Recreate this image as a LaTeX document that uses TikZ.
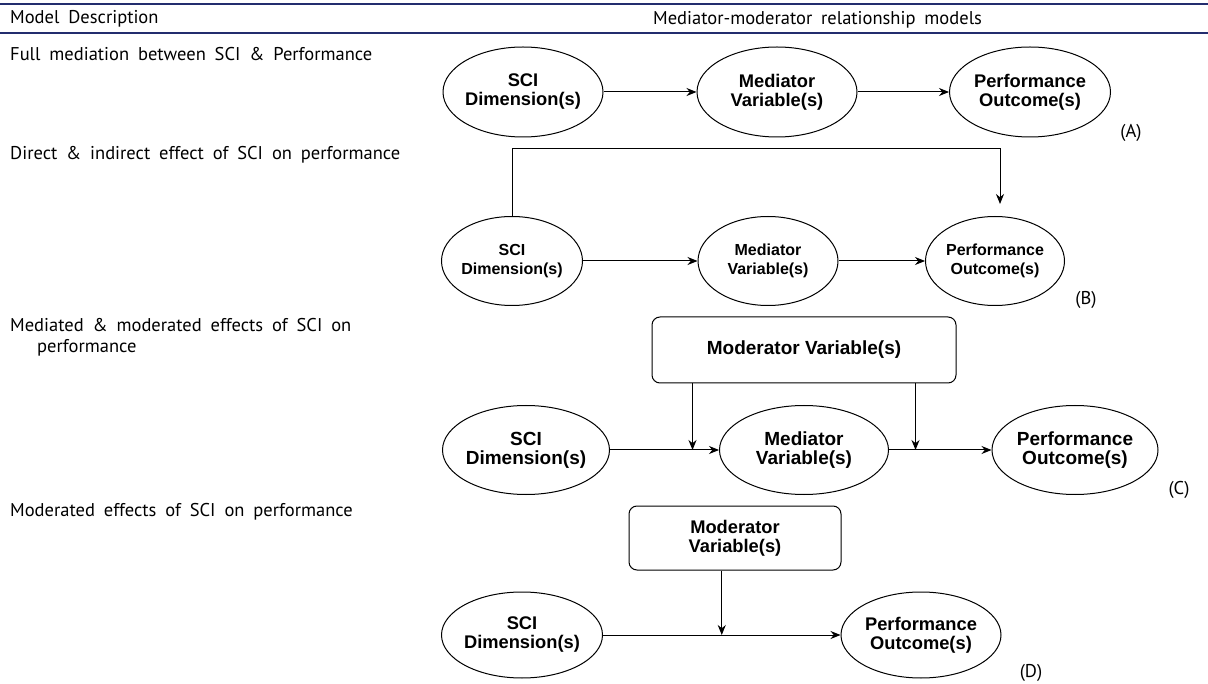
\documentclass[tikz,border=0pt]{standalone}
\usepackage{fontspec}
\setmainfont{PT Sans}[WordSpace=1.8]
\newfontfamily\arialfont{Liberation Sans}
\usepackage{tikz}
\usetikzlibrary{calc,positioning,arrows.meta,shapes.geometric}
\definecolor{rulenavy}{RGB}{35,45,110}
\tikzset{
%>=Stealth, % arrow heads of all connectors
>={Stealth[length=10pt,width=8pt]},
var/.style={ellipse, draw, line width=1pt, inner xsep=-20pt, inner ysep=0pt,
  align=center, font=\arialfont\bfseries\fontsize{18.3}{19}\selectfont},
modbox/.style={rectangle, rounded corners=8pt, draw, line width=1pt,
  align=center, font=\arialfont\bfseries\fontsize{18.3}{19}\selectfont},
rowlabel/.style={anchor=west, inner sep=0pt, font=\fontsize{18.5}{20}\selectfont},
tag/.style={inner sep=0pt, font=\fontsize{18.5}{20}\selectfont},
link/.style={->, line width=1pt},
headrule/.style={draw=rulenavy, line width=1.2pt},
}

\begin{document}
\begin{tikzpicture}[x=1pt,y=-1pt,on grid]
   \useasboundingbox (0,0) rectangle (1208,684);
   % header
   \draw[headrule] (0,4) -- (1208,4);
   \draw[headrule] (0,33) -- (1208,33);
   \node[rowlabel] (hd_model) at (10,19) {Model Description};
   \node[rowlabel] (hd_rel) at (653,20) {Mediator-moderator relationship models};
   % left column
   \node[rowlabel] (lbl_A) at (10,54) {Full mediation between SCI \& Performance};
   \node[rowlabel] (lbl_B) at (10,155) {Direct \& indirect effect of SCI on performance};
   \node[rowlabel] (lbl_C) at (10,325) {Mediated \& moderated effects of SCI on};
   \node[rowlabel] (lbl_C2) at (37,348) {performance};
   \node[rowlabel] (lbl_D) at (10,512) {Moderated effects of SCI on performance};

   % (A)
   \node[var, minimum width=160pt, minimum height=90pt] (sci_A) at (523,92) {SCI\\Dimension(s)};
   \node[var, minimum width=160pt, minimum height=90pt] (med_A) [right=254pt of sci_A] {Mediator\\Variable(s)};
   \node[var, minimum width=161pt, minimum height=90pt] (perf_A) [right=253pt of med_A] {Performance\\Outcome(s)};
   \node[tag] (tag_A) at (1131,133) {(A)};
   \path[link]
   (sci_A) edge (med_A)
   (med_A) edge (perf_A);

   % (B)
   \node[var, minimum width=141pt, minimum height=89pt, font=\arialfont\bfseries\fontsize{16}{19}\selectfont] (sci_B) at (512,261) {SCI\\Dimension(s)};
   \node[var, minimum width=140pt, minimum height=89pt, font=\arialfont\bfseries\fontsize{16}{19}\selectfont] (med_B) [right=256pt of sci_B] {Mediator\\Variable(s)};
   \node[var, minimum width=139pt, minimum height=89pt, font=\arialfont\bfseries\fontsize{16}{19}\selectfont] (perf_B) [right=227pt of med_B] {Performance\\Outcome(s)};
   \node[tag] (tag_B) at (1086,300) {(B)};
   \coordinate (over_B) at (1000,149);
   \coordinate (tip_B) at (1000,204);
   \path[link]
   (sci_B) edge (med_B)
   (med_B) edge (perf_B);
   \draw[link] (sci_B.north) |- (over_B) -- (tip_B);

   % (C)
   \node[modbox, minimum width=304pt, minimum height=66pt, font=\arialfont\bfseries\fontsize{19}{21}\selectfont] (mod_C) at (804,350) {Moderator Variable(s)};
   \node[var, minimum width=167pt, minimum height=89pt, font=\arialfont\bfseries\fontsize{19}{19}\selectfont] (sci_C) at (526,450) {SCI\\Dimension(s)};
   \node[var, minimum width=169pt, minimum height=89pt, font=\arialfont\bfseries\fontsize{19}{19}\selectfont] (med_C) [right=278pt of sci_C] {Mediator\\Variable(s)};
   \node[var, minimum width=166pt, minimum height=89pt, font=\arialfont\bfseries\fontsize{19}{19}\selectfont] (perf_C) [right=271pt of med_C] {Performance\\Outcome(s)};
   \node[tag] (tag_C) at (1179,490) {(C)};
   \coordinate (drop_C1) at ($(mod_C.south west)+(41,0)$);
   \coordinate (drop_C2) at ($(mod_C.south east)+(-41,0)$);
   \path[link]
   (sci_C) edge (med_C)
   (med_C) edge (perf_C);
   \draw[link] (drop_C1) -- (drop_C1 |- sci_C.east);
   \draw[link] (drop_C2) -- (drop_C2 |- sci_C.east);

   % (D)
   \node[modbox, minimum width=212pt, minimum height=64pt] (mod_D) at (735,538) {Moderator\\Variable(s)};
   \node[var, minimum width=161pt, minimum height=86pt] (sci_D) at (522,635) {SCI\\Dimension(s)};
   \node[var, minimum width=160pt, minimum height=86pt] (perf_D) [right=399pt of sci_D] {Performance\\Outcome(s)};
   \node[tag] (tag_D) at (1031,673) {(D)};
   \coordinate (mid_D) at ($(sci_D.east)!0.5!(perf_D.west)$);
   \draw[link] (sci_D) -- (perf_D);
   \draw[link] (mod_D.south -| mid_D) -- (mid_D);
\end{tikzpicture}
\end{document}
